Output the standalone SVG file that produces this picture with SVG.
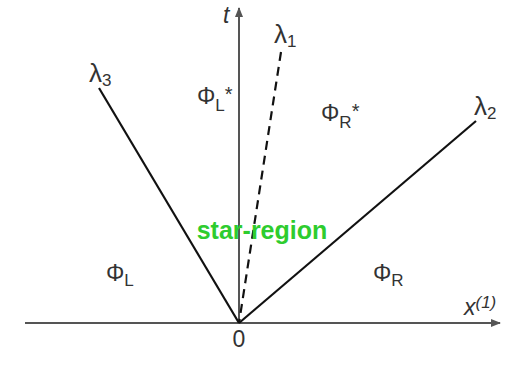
<svg xmlns="http://www.w3.org/2000/svg" width="506" height="365" viewBox="0 0 506 365">
<style>
.lbl{font-family:"Liberation Sans",Arial,sans-serif;fill:#333;font-size:23px}
.lam{font-size:26px}
.sub{font-size:17px}
.star{font-size:20px}
.axis{stroke:#555;stroke-width:2;fill:none}
.wave{stroke:#111;stroke-width:2.2;fill:none}
</style>
<defs>
<marker id="ah" markerWidth="10" markerHeight="8" refX="9" refY="4" orient="auto" markerUnits="userSpaceOnUse">
<path d="M0,0 L10,4 L0,8 Z" fill="#555"/>
</marker>
</defs>
<rect width="506" height="365" fill="#fff"/>
<g id="connectors">
<line class="axis" x1="25" y1="323" x2="500" y2="323" marker-end="url(#ah)"/>
<line class="axis" x1="239" y1="323" x2="239" y2="8" marker-end="url(#ah)"/>
<line class="wave" x1="99" y1="88" x2="239" y2="323"/>
<line class="wave" x1="476" y1="121" x2="239" y2="323"/>
<line class="wave" x1="281" y1="52" x2="239" y2="323" stroke-dasharray="9,6"/>
</g>
<g id="labels">
<text class="lbl" x="223" y="23" font-style="italic">t</text>
<text class="lbl lam" x="274" y="43">λ<tspan class="sub" dy="4">1</tspan></text>
<text class="lbl lam" x="89" y="82">λ<tspan class="sub" dy="4">3</tspan></text>
<text class="lbl lam" x="474" y="115">λ<tspan class="sub" dy="4">2</tspan></text>
<text class="lbl" x="197" y="104">Φ<tspan class="sub" dy="7">L</tspan><tspan class="star" dy="-10">*</tspan></text>
<text class="lbl" x="321" y="121">Φ<tspan class="sub" dy="7">R</tspan><tspan class="star" dy="-10">*</tspan></text>
<text class="lbl" x="106" y="281">Φ<tspan class="sub" dy="5">L</tspan></text>
<text class="lbl" x="373" y="281">Φ<tspan class="sub" dy="5">R</tspan></text>
<text class="lbl" x="464" y="315" font-style="italic">x<tspan class="sub" dy="-7">(1)</tspan></text>
<text class="lbl" x="239" y="347" text-anchor="middle">0</text>
<text x="262" y="239" text-anchor="middle" font-family="'Liberation Sans',Arial,sans-serif" font-weight="bold" font-size="25" fill="#2ecc2e">star-region</text>
</g>
</svg>
